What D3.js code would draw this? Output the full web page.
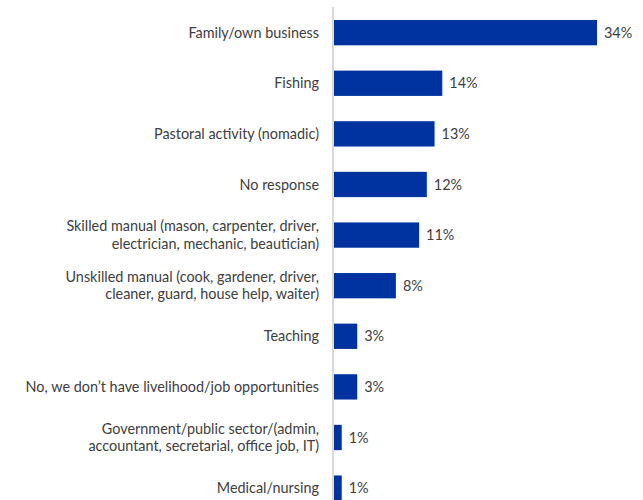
<!DOCTYPE html>
<html>
<head>
<meta charset="utf-8">
<script src="https://cdn.jsdelivr.net/npm/d3@7"></script>
<style>
  html, body { margin: 0; padding: 0; background: #fff; }
  svg { display: block; }
  text { font-family: Lato, "Open Sans", sans-serif; fill: #404040; }
</style>
</head>
<body>
<svg id="chart" width="643" height="500"></svg>
<script>
// Livelihood categories (line breaks mark wrapped labels) and share of responses (%)
const categories = [
  "Family/own business",
  "Fishing",
  "Pastoral activity (nomadic)",
  "No response",
  "Skilled manual (mason, carpenter, driver,\nelectrician, mechanic, beautician)",
  "Unskilled manual (cook, gardener, driver,\ncleaner, guard, house help, waiter)",
  "Teaching",
  "No, we don\u2019t have livelihood/job opportunities",
  "Government/public sector/(admin,\naccountant, secretarial, office job, IT)",
  "Medical/nursing"
];
const values = [34, 14, 13, 12, 11, 8, 3, 3, 1, 1];
const valueLabels = values.map(v => v + "%");

const W = 643, H = 500;
const axisX = 333;
const fontSize = 14.4;
const svg = d3.select("#chart");

const y = d3.scaleBand()
  .domain(categories)
  .range([7.35, 513.4])
  .paddingInner(0.5)
  .paddingOuter(0.25);

const x = d3.scaleLinear()
  .domain([0, 34])
  .range([axisX + 1, 597]);

// bars
svg.append("g")
  .selectAll("rect")
  .data(categories)
  .join("rect")
  .attr("x", x(0))
  .attr("y", d => y(d))
  .attr("width", (d, i) => x(values[i]) - x(0))
  .attr("height", y.bandwidth())
  .attr("fill", "#0033a0");

// vertical category axis line
svg.append("line")
  .attr("x1", axisX).attr("x2", axisX)
  .attr("y1", 7).attr("y2", H)
  .attr("stroke", "#d9d9d9")
  .attr("stroke-width", 2);

// category labels, right-aligned against the axis
const lineH = 17.5;
svg.append("g")
  .selectAll("text")
  .data(categories)
  .join("text")
  .attr("text-anchor", "end")
  .attr("font-size", fontSize)
  .each(function(d) {
    const lines = d.split("\n");
    const cy = y(d) + y.bandwidth() / 2;
    const t = d3.select(this);
    lines.forEach((ln, k) => {
      t.append("tspan")
        .attr("x", axisX - 14)
        .attr("y", cy + (k - (lines.length - 1) / 2) * lineH)
        .attr("dy", "0.35em")
        .text(ln);
    });
  });

// value labels at bar ends
svg.append("g")
  .selectAll("text")
  .data(categories)
  .join("text")
  .attr("x", (d, i) => x(values[i]) + 7)
  .attr("y", d => y(d) + y.bandwidth() / 2)
  .attr("dy", "0.35em")
  .attr("font-size", fontSize)
  .text((d, i) => valueLabels[i]);
</script>
</body>
</html>
